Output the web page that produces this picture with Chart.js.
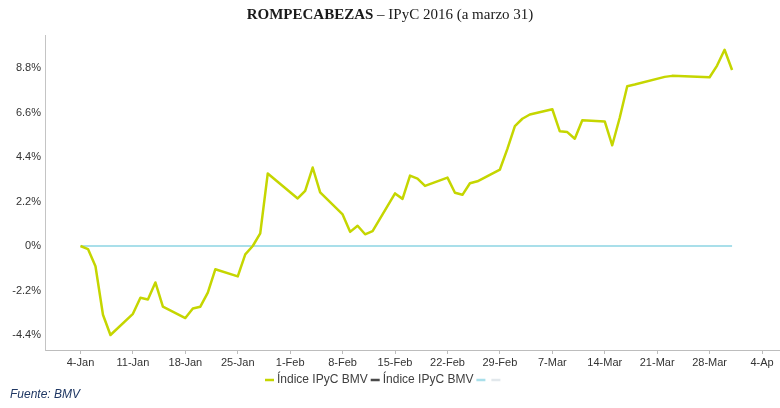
<!DOCTYPE html>
<html lang="es">
<head>
<meta charset="utf-8">
<title>Rompecabezas – IPyC 2016</title>
<script src="https://cdn.jsdelivr.net/npm/chart.js@4.4.1/dist/chart.umd.min.js"></script>
<style>
  html, body { margin: 0; padding: 0; background: #fff; }
  #wrap { position: relative; width: 780px; height: 408px; }
</style>
</head>
<body>
<div id="wrap"><canvas id="grafica" width="780" height="408"></canvas></div>
<script>
// Días hábiles (BMV) y rendimiento acumulado del IPyC en %
const fechas = [
  '2016-01-04','2016-01-05','2016-01-06','2016-01-07','2016-01-08',
  '2016-01-11','2016-01-12','2016-01-13','2016-01-14','2016-01-15',
  '2016-01-18','2016-01-19','2016-01-20','2016-01-21','2016-01-22',
  '2016-01-25','2016-01-26','2016-01-27','2016-01-28','2016-01-29',
  '2016-02-02','2016-02-03','2016-02-04','2016-02-05',
  '2016-02-08','2016-02-09','2016-02-10','2016-02-11','2016-02-12',
  '2016-02-15','2016-02-16','2016-02-17','2016-02-18','2016-02-19',
  '2016-02-22','2016-02-23','2016-02-24','2016-02-25','2016-02-26',
  '2016-02-29','2016-03-01','2016-03-02','2016-03-03','2016-03-04',
  '2016-03-07','2016-03-08','2016-03-09','2016-03-10','2016-03-11',
  '2016-03-14','2016-03-15','2016-03-16','2016-03-17','2016-03-18',
  '2016-03-22','2016-03-23',
  '2016-03-28','2016-03-29','2016-03-30','2016-03-31'
];
const ipyc = [
  0, -0.15, -1.0, -3.4, -4.4,
  -3.35, -2.56, -2.64, -1.8, -3.0,
  -3.56, -3.09, -3.0, -2.3, -1.15,
  -1.5, -0.41, 0.0, 0.62, 3.58,
  2.35, 2.72, 3.88, 2.65,
  1.56, 0.7, 1.0, 0.58, 0.74,
  2.6, 2.33, 3.48, 3.33, 2.97,
  3.38, 2.63, 2.53, 3.1, 3.2,
  3.78, 4.8, 5.93, 6.29, 6.5,
  6.76, 5.67, 5.63, 5.3, 6.22,
  6.16, 4.98, 6.34, 7.9, 7.98,
  8.36, 8.41,
  8.34, 8.92, 9.7, 8.7
];

// segunda serie: línea de referencia en 0
const fechasCero = ['2016-01-04', '2016-03-31'];
const cero = [0, 0];

// ejes
const ticksXFechas = [
  '2016-01-04','2016-01-11','2016-01-18','2016-01-25','2016-02-01','2016-02-08','2016-02-15',
  '2016-02-22','2016-02-29','2016-03-07','2016-03-14','2016-03-21','2016-03-28','2016-04-04'
];
const ticksXEtiquetas = [
  '4-Jan','11-Jan','18-Jan','25-Jan','1-Feb','8-Feb','15-Feb',
  '22-Feb','29-Feb','7-Mar','14-Mar','21-Mar','28-Mar','4-Ap'
];
const ticksY = [-4.4, -2.2, 0, 2.2, 4.4, 6.6, 8.8];

const leyenda = [
  { texto: 'Índice IPyC BMV', color: '#c5d600' },
  { texto: 'Índice IPyC BMV', color: '#4a4a4a' },
  { texto: '', color: '#a9dfea' },
  { texto: '', color: '#e2e8ec' }
];

const VERDE = '#c5d600';
const CIAN = '#a9dfea';

// días desde el 4 de enero
const DIA0 = Date.UTC(2016, 0, 4);
function dia(f) {
  const p = f.split('-').map(Number);
  return (Date.UTC(p[0], p[1] - 1, p[2]) - DIA0) / 86400000;
}

const etiquetaPorDia = {};
ticksXFechas.forEach((f, i) => etiquetaPorDia[dia(f)] = ticksXEtiquetas[i]);

// título, leyenda y fuente
const extras = {
  id: 'extras',
  afterDraw(chart) {
    const c = chart.ctx;
    c.save();
    // título
    const t1 = 'ROMPECABEZAS', t2 = ' – IPyC 2016 (a marzo 31)';
    c.fillStyle = '#1a1a1a';
    c.textBaseline = 'alphabetic';
    c.font = 'bold 15px "Liberation Serif"';
    const w1 = c.measureText(t1).width;
    c.font = '15px "Liberation Serif"';
    const w2 = c.measureText(t2).width;
    let x = 390 - (w1 + w2) / 2;
    c.font = 'bold 15px "Liberation Serif"';
    c.textAlign = 'left';
    c.fillText(t1, x, 19);
    c.font = '15px "Liberation Serif"';
    c.fillText(t2, x + w1, 19);

    // leyenda
    c.font = '12px "Liberation Sans"';
    c.textBaseline = 'middle';
    let lx = 265;
    const ly = 380;
    leyenda.forEach(it => {
      c.strokeStyle = it.color;
      c.lineWidth = 2.5;
      c.beginPath();
      c.moveTo(lx, ly);
      c.lineTo(lx + 9, ly);
      c.stroke();
      lx += 12;
      if (it.texto) {
        c.fillStyle = '#404040';
        c.fillText(it.texto, lx, ly);
        lx += c.measureText(it.texto).width + 3;
      } else {
        lx += 3;
      }
    });

    // fuente
    c.font = 'italic 12px "Liberation Sans"';
    c.fillStyle = '#203864';
    c.textBaseline = 'middle';
    c.fillText('Fuente: BMV', 10, 395);
    c.restore();
  }
};

const ctx = document.getElementById('grafica').getContext('2d');
const chart = new Chart(ctx, {
  type: 'line',
  data: {
    datasets: [
      {
        label: 'Índice IPyC BMV',
        data: fechas.map((f, i) => ({ x: dia(f), y: ipyc[i] })),
        borderColor: VERDE,
        borderWidth: 2.5,
        borderJoinStyle: 'round',
        pointRadius: 0,
        tension: 0,
        order: 1
      },
      {
        label: 'Índice IPyC BMV',
        data: fechasCero.map((f, i) => ({ x: dia(f), y: cero[i] })),
        borderColor: CIAN,
        borderWidth: 2,
        pointRadius: 0,
        tension: 0,
        order: 2
      }
    ]
  },
  options: {
    responsive: false,
    animation: false,
    layout: { padding: { top: 35, left: 0, right: 0, bottom: 0 } },
    plugins: {
      legend: { display: false },
      tooltip: { enabled: false }
    },
    scales: {
      x: {
        type: 'linear',
        min: -4.74,
        max: 93.4,
        afterBuildTicks: s => { s.ticks = ticksXFechas.map(f => ({ value: dia(f) })); },
        afterFit: s => { s.height = 58; },
        ticks: {
          autoSkip: false,
          maxRotation: 0,
          padding: 2,
          color: '#333',
          font: { family: 'Liberation Sans', size: 11 },
          callback: v => etiquetaPorDia[v] || ''
        },
        grid: { display: true, drawOnChartArea: false, drawTicks: true, tickLength: 4, color: '#bdbdbd' },
        border: { display: true, color: '#bdbdbd', width: 1 }
      },
      y: {
        min: -5.14,
        max: 10.43,
        afterBuildTicks: s => { s.ticks = ticksY.map(v => ({ value: v })); },
        afterFit: s => { s.width = 45; },
        ticks: {
          padding: 4,
          color: '#333',
          font: { family: 'Liberation Sans', size: 11 },
          callback: v => (v === 0 ? '0%' : v.toFixed(1) + '%')
        },
        grid: { display: false, drawTicks: false },
        border: { display: true, color: '#c4c4c4', width: 1 }
      }
    }
  },
  plugins: [extras]
});
</script>
</body>
</html>
